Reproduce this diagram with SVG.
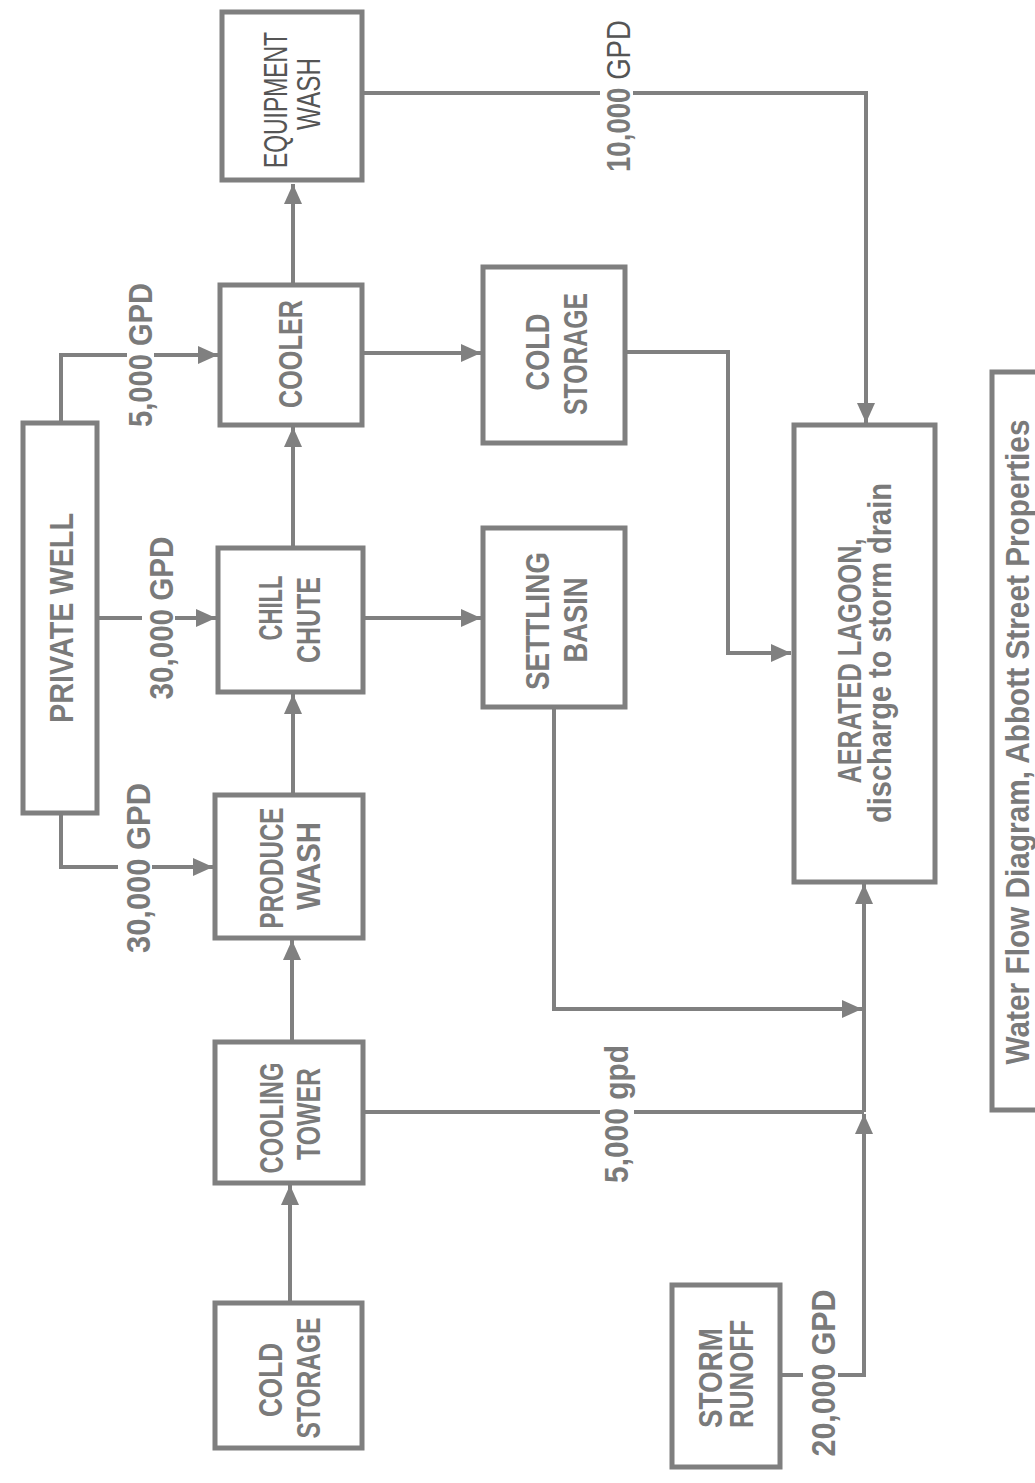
<svg xmlns="http://www.w3.org/2000/svg" width="1035" height="1483" viewBox="0 0 1035 1483">
<style>
.box{fill:none;stroke:#7f7f7f;stroke-width:5}
.ln{fill:none;stroke:#808080;stroke-width:4}
.t{font-family:"Liberation Sans",Arial,sans-serif;font-weight:bold;font-size:33px;fill:#7a7a7a;text-anchor:middle}
.n{font-weight:normal;fill:#555}
</style>
<defs>
<marker id="ah" markerUnits="userSpaceOnUse" markerWidth="22" markerHeight="20" refX="20" refY="9" orient="auto">
<path d="M0,0 L20,9 L0,18 Z" fill="#808080"/>
</marker>
</defs>
<rect width="1035" height="1483" fill="#fff"/>

<g id="connectors">
<path class="ln" d="M293,285 V184" marker-end="url(#ah)"/>
<path class="ln" d="M61,423 V355 H127"/>
<path class="ln" d="M154,355 H218" marker-end="url(#ah)"/>
<path class="ln" d="M97,618 H142"/>
<path class="ln" d="M175,618 H216" marker-end="url(#ah)"/>
<path class="ln" d="M61,813 V867 H118"/>
<path class="ln" d="M152,867 H213" marker-end="url(#ah)"/>
<path class="ln" d="M293,795 V694" marker-end="url(#ah)"/>
<path class="ln" d="M293,548 V427" marker-end="url(#ah)"/>
<path class="ln" d="M292,1042 V940" marker-end="url(#ah)"/>
<path class="ln" d="M290,1303 V1185" marker-end="url(#ah)"/>
<path class="ln" d="M362,353 H481" marker-end="url(#ah)"/>
<path class="ln" d="M363,618 H481" marker-end="url(#ah)"/>
<path class="ln" d="M625,352 H728 V653 H791" marker-end="url(#ah)"/>
<path class="ln" d="M362,93 H600"/>
<path class="ln" d="M633,93 H866 V423" marker-end="url(#ah)"/>
<path class="ln" d="M554,707 V1009 H862" marker-end="url(#ah)"/>
<path class="ln" d="M363,1112 H600"/>
<path class="ln" d="M634,1112 H864"/>
<path class="ln" d="M780,1375 H803"/>
<path class="ln" d="M838,1375 H864 V1114" marker-end="url(#ah)"/>
<path class="ln" d="M864,1112 V884" marker-end="url(#ah)"/>
<text class="t" x="152" y="355" textLength="144" lengthAdjust="spacingAndGlyphs" transform="rotate(-90 152 355)">5,000 GPD</text>
<text class="t" x="173" y="618" textLength="163" lengthAdjust="spacingAndGlyphs" transform="rotate(-90 173 618)">30,000 GPD</text>
<text class="t" x="150" y="868" textLength="170" lengthAdjust="spacingAndGlyphs" transform="rotate(-90 150 868)">30,000 GPD</text>
<text class="t" x="630" y="96" textLength="152" lengthAdjust="spacingAndGlyphs" transform="rotate(-90 630 96)">10,000 <tspan class="n">GPD</tspan></text>
<text class="t" x="628" y="1114" textLength="138" lengthAdjust="spacingAndGlyphs" transform="rotate(-90 628 1114)">5,000 gpd</text>
<text class="t" x="835" y="1373" textLength="167" lengthAdjust="spacingAndGlyphs" transform="rotate(-90 835 1373)">20,000 GPD</text>
</g>

<g id="equipment-wash">
<rect class="box" x="222" y="12" width="140" height="168"/>
<text class="t n" x="287" y="100" font-size="31" textLength="136" lengthAdjust="spacingAndGlyphs" transform="rotate(-90 287 100)">EQUIPMENT</text>
<text class="t n" x="320" y="94" font-size="31" textLength="72" lengthAdjust="spacingAndGlyphs" transform="rotate(-90 320 94)">WASH</text>
</g>

<g id="cooler">
<rect class="box" x="220" y="285" width="142" height="140"/>
<text class="t" x="302" y="354" textLength="108" lengthAdjust="spacingAndGlyphs" transform="rotate(-90 302 354)">COOLER</text>
</g>

<g id="cold-storage-upper">
<rect class="box" x="483" y="267" width="142" height="176"/>
<text class="t" x="549" y="352" textLength="77" lengthAdjust="spacingAndGlyphs" transform="rotate(-90 549 352)">COLD</text>
<text class="t" x="587" y="354" textLength="122" lengthAdjust="spacingAndGlyphs" transform="rotate(-90 587 354)">STORAGE</text>
</g>

<g id="private-well">
<rect class="box" x="23" y="423" width="74" height="390"/>
<text class="t" x="73" y="618" textLength="210" lengthAdjust="spacingAndGlyphs" transform="rotate(-90 73 618)">PRIVATE WELL</text>
</g>

<g id="chill-chute">
<rect class="box" x="218" y="548" width="145" height="144"/>
<text class="t" x="282" y="608" textLength="65" lengthAdjust="spacingAndGlyphs" transform="rotate(-90 282 608)">CHILL</text>
<text class="t" x="320" y="620" textLength="86" lengthAdjust="spacingAndGlyphs" transform="rotate(-90 320 620)">CHUTE</text>
</g>

<g id="settling-basin">
<rect class="box" x="483" y="528" width="142" height="179"/>
<text class="t" x="549" y="621" textLength="138" lengthAdjust="spacingAndGlyphs" transform="rotate(-90 549 621)">SETTLING</text>
<text class="t" x="587" y="620" textLength="85" lengthAdjust="spacingAndGlyphs" transform="rotate(-90 587 620)">BASIN</text>
</g>

<g id="produce-wash">
<rect class="box" x="215" y="795" width="148" height="143"/>
<text class="t" x="283" y="868" textLength="121" lengthAdjust="spacingAndGlyphs" transform="rotate(-90 283 868)">PRODUCE</text>
<text class="t" x="320" y="866" textLength="88" lengthAdjust="spacingAndGlyphs" transform="rotate(-90 320 866)">WASH</text>
</g>

<g id="cooling-tower">
<rect class="box" x="215" y="1042" width="148" height="141"/>
<text class="t" x="283" y="1118" textLength="111" lengthAdjust="spacingAndGlyphs" transform="rotate(-90 283 1118)">COOLING</text>
<text class="t" x="320" y="1114" textLength="92" lengthAdjust="spacingAndGlyphs" transform="rotate(-90 320 1114)">TOWER</text>
</g>

<g id="cold-storage-lower">
<rect class="box" x="215" y="1303" width="147" height="145"/>
<text class="t" x="282" y="1380" textLength="74" lengthAdjust="spacingAndGlyphs" transform="rotate(-90 282 1380)">COLD</text>
<text class="t" x="320" y="1378" textLength="121" lengthAdjust="spacingAndGlyphs" transform="rotate(-90 320 1378)">STORAGE</text>
</g>

<g id="aerated-lagoon">
<rect class="box" x="794" y="425" width="141" height="457"/>
<text class="t" x="861" y="661" textLength="245" lengthAdjust="spacingAndGlyphs" transform="rotate(-90 861 661)">AERATED LAGOON,</text>
<text class="t" x="891" y="653" textLength="340" lengthAdjust="spacingAndGlyphs" transform="rotate(-90 891 653)">discharge to storm drain</text>
</g>

<g id="storm-runoff">
<rect class="box" x="672" y="1285" width="108" height="182"/>
<text class="t" x="722" y="1378" textLength="100" lengthAdjust="spacingAndGlyphs" transform="rotate(-90 722 1378)">STORM</text>
<text class="t" x="753" y="1374" textLength="108" lengthAdjust="spacingAndGlyphs" transform="rotate(-90 753 1374)">RUNOFF</text>
</g>

<g id="caption">
<rect class="box" x="992" y="372" width="50" height="738"/>
<text class="t" x="1029" y="742" textLength="645" lengthAdjust="spacingAndGlyphs" transform="rotate(-90 1029 742)">Water Flow Diagram, Abbott Street Properties</text>
</g>
</svg>
